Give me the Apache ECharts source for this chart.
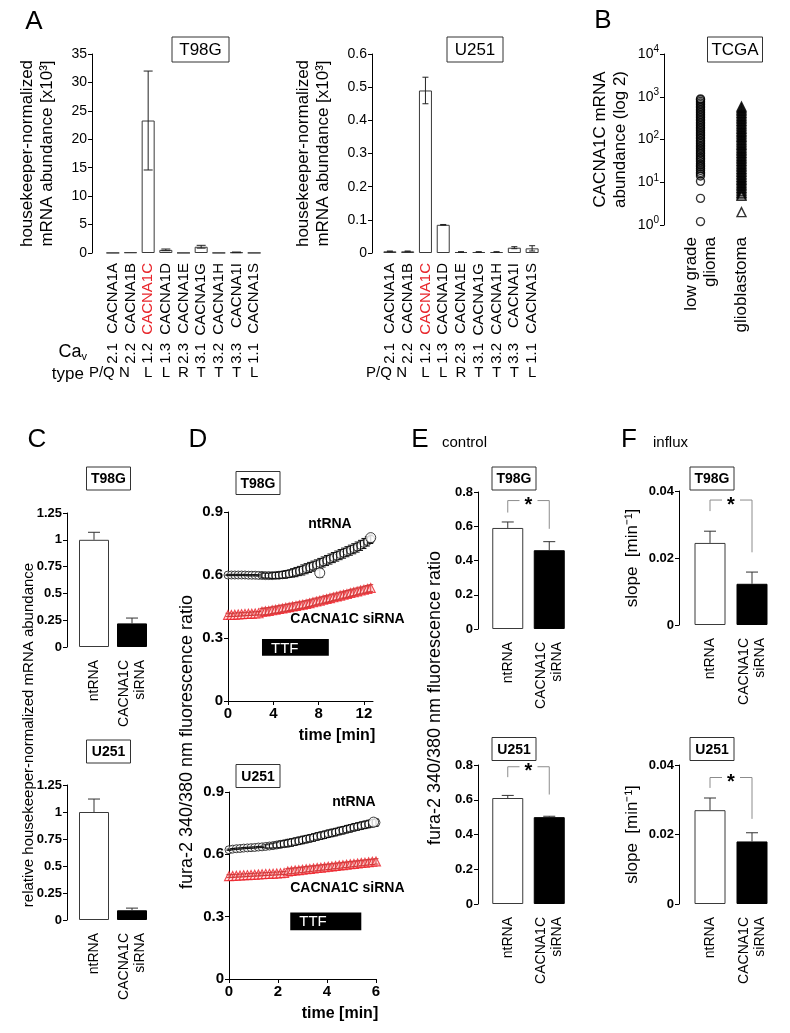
<!DOCTYPE html>
<html>
<head>
<meta charset="utf-8">
<script src="https://cdn.jsdelivr.net/npm/echarts@6/dist/echarts.min.js"></script>
<style>
  html, body { margin: 0; padding: 0; background: #fff; }
  #chart { width: 790px; height: 1033px; }
</style>
</head>
<body>
<div id="chart"></div>
<script>
const FONT = "'Liberation Sans', Arial, Helvetica, sans-serif";

// ---- A: Cav alpha1 mRNA abundance ----
const genes = ['CACNA1A', 'CACNA1B', 'CACNA1C', 'CACNA1D', 'CACNA1E', 'CACNA1G', 'CACNA1H', 'CACNA1I', 'CACNA1S'];
const cavSubtypes = ['2.1', '2.2', '1.2', '1.3', '2.3', '3.1', '3.2', '3.3', '1.1'];
const channelTypes = ['P/Q', 'N', 'L', 'L', 'R', 'T', 'T', 'T', 'L'];
const t98gAbundance = [0.03, 0.12, 23.3, 0.55, 0.03, 1.1, 0.03, 0.12, 0.03];
const t98gAbundanceErr = [0, 0, 8.7, 0.15, 0, 0.25, 0, 0.05, 0];
const u251Abundance = [0.005, 0.005, 0.49, 0.085, 0.003, 0.003, 0.003, 0.016, 0.014];
const u251AbundanceErr = [0.001, 0.001, 0.04, 0.001, 0.001, 0.001, 0.001, 0.003, 0.008];

// ---- B: TCGA ----
const tcgaGroups = ['low grade\nglioma', 'glioblastoma'];
const lowGradeGlioma = [1.2, 4.2, 10.5, 14, 15.5, 17, 19, 21, 23, 25, 27, 30, 33, 36, 39, 43, 47, 51, 56, 61,
  67, 73, 80, 87, 95, 104, 113, 124, 135, 148, 161, 176, 192, 210, 229, 250, 273, 298, 325, 355,
  388, 423, 462, 504, 550, 600, 655, 715, 780, 850, 890];
const glioblastoma = [2.0, 4.8, 5.2, 5.7, 6.2, 6.8, 7.4, 8.1, 8.8, 9.6, 10.5, 11.4, 12.4, 13.5, 14.7, 16, 17.5,
  19, 20.7, 22.6, 24.6, 26.8, 29.2, 31.8, 34.7, 37.8, 41.2, 44.9, 49, 53.4, 58.2, 63.4, 69, 75.3, 82, 89.4,
  97.5, 106, 116, 126, 138, 150, 163, 178, 194, 212, 231, 251, 274, 299, 326, 355, 387, 420, 460, 500, 545, 590];

// ---- C: knockdown ----
const knockdownGroups = ['ntRNA', 'CACNA1C\nsiRNA'];
const t98gKnockdown = [1.0, 0.22];
const t98gKnockdownErr = [0.07, 0.05];
const u251Knockdown = [1.0, 0.09];
const u251KnockdownErr = [0.12, 0.02];

// ---- D: fura-2 traces ----
const timeT98G = [0, 0.3, 0.6, 0.9, 1.2, 1.5, 1.8, 2.1, 2.4, 2.7, 3.0, 3.3, 3.6, 3.9, 4.2, 4.5, 4.8, 5.1, 5.4, 5.7,
  6.0, 6.3, 6.6, 6.9, 7.2, 7.5, 7.8, 8.1, 8.4, 8.7, 9.0, 9.3, 9.6, 9.9, 10.2, 10.5, 10.8, 11.1, 11.4, 11.7, 12.0, 12.3, 12.6];
const ntrnaT98G = [0.600, 0.600, 0.600, 0.600, 0.600, 0.600, 0.599, 0.599, 0.599, 0.598, 0.598, 0.597, 0.597, 0.597,
  0.598, 0.599, 0.601, 0.603, 0.606, 0.610, 0.614, 0.619, 0.624, 0.630, 0.636, 0.642, 0.648, 0.655, 0.662, 0.669,
  0.676, 0.683, 0.690, 0.697, 0.704, 0.711, 0.718, 0.725, 0.733, 0.741, 0.750, 0.760, 0.770];
const ntrnaT98GErr = [0.003, 0.003, 0.003, 0.003, 0.003, 0.003, 0.003, 0.003, 0.003, 0.003, 0.012, 0.012, 0.012, 0.014,
  0.014, 0.016, 0.016, 0.018, 0.018, 0.02, 0.022, 0.022, 0.024, 0.024, 0.024, 0.024, 0.024, 0.024, 0.024, 0.024,
  0.024, 0.024, 0.024, 0.024, 0.024, 0.024, 0.024, 0.024, 0.024, 0.024, 0.024, 0.022, 0.02];
const sirnaT98G = [0.410, 0.410, 0.411, 0.412, 0.413, 0.414, 0.415, 0.416, 0.417, 0.418, 0.425, 0.427, 0.429, 0.432,
  0.435, 0.438, 0.441, 0.444, 0.447, 0.450, 0.453, 0.456, 0.459, 0.462, 0.466, 0.470, 0.474, 0.478, 0.482, 0.486,
  0.490, 0.494, 0.498, 0.502, 0.506, 0.510, 0.514, 0.518, 0.522, 0.526, 0.530, 0.534, 0.538];
const sirnaT98GErr = [0.008, 0.008, 0.008, 0.008, 0.008, 0.008, 0.008, 0.008, 0.008, 0.008, 0.016, 0.016, 0.016, 0.016,
  0.016, 0.016, 0.016, 0.016, 0.016, 0.016, 0.016, 0.016, 0.016, 0.016, 0.016, 0.016, 0.016, 0.016, 0.016, 0.016,
  0.016, 0.016, 0.016, 0.016, 0.016, 0.016, 0.016, 0.016, 0.016, 0.016, 0.016, 0.016, 0.016];
const meanMarksT98G = [[8.1, 0.61], [12.6, 0.778]];
const meanMarksT98GErr = [0.02, 0];
const ttfWindowT98G = [3.0, 8.9];

const timeU251 = [0, 0.15, 0.3, 0.45, 0.6, 0.75, 0.9, 1.05, 1.2, 1.35, 1.5, 1.65, 1.8, 1.95, 2.1, 2.25, 2.4, 2.55,
  2.7, 2.85, 3.0, 3.15, 3.3, 3.45, 3.6, 3.75, 3.9, 4.05, 4.2, 4.35, 4.5, 4.65, 4.8, 4.95, 5.1, 5.25, 5.4, 5.55, 5.7, 5.85, 6.0];
const ntrnaU251 = [0.622, 0.625, 0.627, 0.628, 0.630, 0.631, 0.632, 0.633, 0.635, 0.636, 0.638, 0.640, 0.642, 0.645,
  0.648, 0.651, 0.654, 0.657, 0.661, 0.665, 0.669, 0.673, 0.677, 0.681, 0.686, 0.690, 0.694, 0.699, 0.703, 0.707,
  0.712, 0.716, 0.721, 0.725, 0.730, 0.734, 0.738, 0.742, 0.746, 0.750, 0.753];
const ntrnaU251Err = [0.003, 0.003, 0.003, 0.003, 0.003, 0.003, 0.003, 0.003, 0.003, 0.003, 0.008, 0.01, 0.012, 0.014,
  0.016, 0.016, 0.018, 0.018, 0.018, 0.018, 0.018, 0.018, 0.018, 0.018, 0.018, 0.018, 0.018, 0.018, 0.018, 0.018,
  0.018, 0.018, 0.018, 0.018, 0.018, 0.018, 0.018, 0.018, 0.018, 0.018, 0.018];
const sirnaU251 = [0.495, 0.496, 0.497, 0.498, 0.499, 0.500, 0.501, 0.502, 0.503, 0.504, 0.505, 0.506, 0.507, 0.508,
  0.509, 0.510, 0.518, 0.520, 0.522, 0.524, 0.526, 0.528, 0.530, 0.532, 0.534, 0.536, 0.538, 0.540, 0.542, 0.544,
  0.546, 0.548, 0.550, 0.552, 0.554, 0.556, 0.558, 0.560, 0.562, 0.564, 0.566];
const sirnaU251Err = [0.007, 0.007, 0.007, 0.007, 0.007, 0.007, 0.007, 0.007, 0.007, 0.007, 0.007, 0.007, 0.007, 0.007,
  0.007, 0.007, 0.013, 0.013, 0.013, 0.013, 0.013, 0.013, 0.013, 0.013, 0.013, 0.013, 0.013, 0.013, 0.013, 0.013,
  0.013, 0.013, 0.013, 0.013, 0.013, 0.013, 0.013, 0.013, 0.013, 0.013, 0.013];
const meanMarksU251 = [[5.9, 0.755]];
const meanMarksU251Err = [0];
const ttfWindowU251 = [2.5, 5.4];

// ---- E: basal ratio ----
const ratioT98G = [0.59, 0.46];
const ratioT98GErr = [0.035, 0.05];
const ratioU251 = [0.61, 0.50];
const ratioU251Err = [0.015, 0.005];
// ---- F: influx slope ----
const slopeT98G = [0.0245, 0.0123];
const slopeT98GErr = [0.0035, 0.0035];
const slopeU251 = [0.027, 0.018];
const slopeU251Err = [0.0035, 0.0025];
// significance brackets: [bracket level, left leg end, right leg end]
const sigRatioT98G = [0.75, 0.68, 0.585];
const sigRatioU251 = [0.79, 0.73, 0.63];
const sigSlopeT98G = [0.0373, 0.034, 0.0217];
const sigSlopeU251 = [0.0364, 0.0334, 0.0245];

// ---------------------------------------------------------------
const grids = [], xAxes = [], yAxes = [], series = [];
function addGrid(g) { grids.push(Object.assign({ containLabel: false }, g)); return grids.length - 1; }
function addX(a) { xAxes.push(a); return xAxes.length - 1; }
function addY(a) { yAxes.push(a); return yAxes.length - 1; }

function valueY(gridIndex, min, max, interval, offset, fontSize, name, weight) {
  const a = {
    type: 'value', gridIndex, min, max, interval, offset,
    axisLine: { show: true, lineStyle: { color: '#000', width: 1 } },
    axisTick: { show: true, length: 4, lineStyle: { color: '#000' } },
    axisLabel: { fontSize, color: '#000', fontFamily: FONT, fontWeight: weight || 'normal', margin: 5 },
    splitLine: { show: false }
  };
  if (name) Object.assign(a, name);
  return addY(a);
}
function catX(gridIndex, data, fontSize, margin, extra) {
  return addX(Object.assign({
    type: 'category', gridIndex, data,
    axisLine: { show: false }, axisTick: { show: false },
    axisLabel: { rotate: 90, fontSize, color: '#000', fontFamily: FONT, margin, lineHeight: fontSize + 2, interval: 0 }
  }, extra || {}));
}
function bars(xi, yi, values, fills, width) {
  return {
    type: 'bar', xAxisIndex: xi, yAxisIndex: yi, barWidth: width, silent: true, z: 2,
    data: values.map((v, i) => ({
      value: v,
      itemStyle: { color: fills[i], borderColor: fills[i] === '#000' ? '#000' : '#3a3a3a', borderWidth: 1 }
    }))
  };
}
// vertical error bars: data rows [x, value, err]
function errorBars(xi, yi, rows, oneSided, capWidth, color, z) {
  return {
    type: 'custom', xAxisIndex: xi, yAxisIndex: yi, silent: true, z: z || 5,
    encode: { x: 0, y: 1 },
    data: rows,
    renderItem: (params, api) => {
      const x = api.value(0), v = api.value(1), e = api.value(2);
      if (!e) return null;
      const top = api.coord([x, v + e]);
      const bot = api.coord([x, oneSided ? v : v - e]);
      const h = capWidth / 2;
      const st = { stroke: color, lineWidth: 1 };
      const kids = [
        { type: 'line', shape: { x1: top[0], y1: top[1], x2: bot[0], y2: bot[1] }, style: st },
        { type: 'line', shape: { x1: top[0] - h, y1: top[1], x2: top[0] + h, y2: top[1] }, style: st }
      ];
      if (!oneSided) kids.push({ type: 'line', shape: { x1: bot[0] - h, y1: bot[1], x2: bot[0] + h, y2: bot[1] }, style: st });
      return { type: 'group', children: kids };
    }
  };
}
function withIndex(values, errs) { return values.map((v, i) => [i, v, errs[i]]); }
function bracket(xi, yi, sig) {
  return {
    type: 'custom', xAxisIndex: xi, yAxisIndex: yi, silent: true, z: 6,
    encode: { x: 0, y: 1 },
    data: [[0, sig[0], sig[1], sig[2]]],
    renderItem: (params, api) => {
      const lvl = api.value(1);
      const l0 = api.coord([0, api.value(2)]), l1 = api.coord([0, lvl]);
      const r0 = api.coord([1, api.value(3)]), r1 = api.coord([1, lvl]);
      const mid = (l1[0] + r1[0]) / 2, gap = 9;
      const st = { stroke: '#8c8c8c', lineWidth: 1, fill: null };
      return { type: 'group', children: [
        { type: 'polyline', shape: { points: [l0, l1, [mid - gap, l1[1]]] }, style: st },
        { type: 'polyline', shape: { points: [[mid + gap, r1[1]], r1, r0] }, style: st },
        { type: 'text', x: mid, y: l1[1] + 5, style: { text: '*', fontSize: 20, fontWeight: 'bold', fontFamily: FONT, fill: '#000', align: 'center', verticalAlign: 'middle' } }
      ] };
    }
  };
}
function ttfBar(xi, yi, win, yTop, yBot) {
  return {
    type: 'custom', xAxisIndex: xi, yAxisIndex: yi, silent: true, z: 4,
    encode: { x: 0, y: 2 },
    data: [[win[0], win[1], yTop, yBot]],
    renderItem: (params, api) => {
      const p0 = api.coord([api.value(0), api.value(2)]);
      const p1 = api.coord([api.value(1), api.value(3)]);
      return { type: 'group', children: [
        { type: 'rect', shape: { x: p0[0], y: p0[1], width: p1[0] - p0[0], height: p1[1] - p0[1] }, style: { fill: '#000' } },
        { type: 'text', x: p0[0] + 9, y: (p0[1] + p1[1]) / 2 + 1, style: { text: 'TTF', fontSize: 15, fontFamily: FONT, fill: '#fff', verticalAlign: 'middle' } }
      ] };
    }
  };
}

// ---- grids ----
const gA1 = addGrid({ left: 104, top: 54, width: 159, height: 199 });
const gA2 = addGrid({ left: 381, top: 54, width: 160, height: 199 });
const gB = addGrid({ left: 680, top: 54, width: 82, height: 171 });
const gC1 = addGrid({ left: 75, top: 513, width: 76, height: 134 });
const gC2 = addGrid({ left: 75, top: 785, width: 76, height: 135 });
const gD1 = addGrid({ left: 228, top: 512, width: 145, height: 189 });
const gD2 = addGrid({ left: 229, top: 792, width: 147, height: 187 });
const gE1 = addGrid({ left: 487, top: 492, width: 83, height: 137 });
const gE2 = addGrid({ left: 487, top: 765, width: 83, height: 139 });
const gF1 = addGrid({ left: 689, top: 491, width: 84, height: 134 });
const gF2 = addGrid({ left: 689, top: 765, width: 84, height: 139 });

// ---- panel A axes ----
const geneLabels = genes.map(g => g === 'CACNA1C' ? { value: g, textStyle: { color: '#e8262b' } } : g);
const typeLabels = channelTypes.map((t, i) => i === 0 ? { value: t, textStyle: { padding: [0, 22, 0, 0] } }
  : i === 1 ? { value: t, textStyle: { padding: [0, 12, 0, 0] } } : t);
const aName = (gap) => ({
  name: 'housekeeper-normalized\nmRNA abundance [x10³]', nameLocation: 'middle', nameRotate: 90, nameGap: gap,
  nameTextStyle: { fontSize: 17, lineHeight: 20, color: '#000', fontFamily: FONT }
});
function geneAxes(grid) {
  const xi = catX(grid, geneLabels, 15, 10);
  catX(grid, cavSubtypes, 15, 10, { position: 'bottom', offset: 80 });
  addX({ type: 'category', gridIndex: grid, data: typeLabels, position: 'bottom', offset: 106,
    axisLine: { show: false }, axisTick: { show: false },
    axisLabel: { fontSize: 15, color: '#000', fontFamily: FONT, margin: 6, interval: 0 } });
  return xi;
}
const xA1 = geneAxes(gA1);
const yA1 = valueY(gA1, 0, 35, 5, 12, 14, aName(35));
const xA2 = geneAxes(gA2);
const yA2 = valueY(gA2, 0, 0.6, 0.1, 9, 14, aName(39));

series.push(bars(xA1, yA1, t98gAbundance, genes.map(() => '#fff'), 13));
series.push(errorBars(xA1, yA1, withIndex(t98gAbundance, t98gAbundanceErr), false, 9, '#222'));
series.push(bars(xA2, yA2, u251Abundance, genes.map(() => '#fff'), 13));
series.push(errorBars(xA2, yA2, withIndex(u251Abundance, u251AbundanceErr), false, 6, '#222'));

// ---- panel B ----
const xB = catX(gB, tcgaGroups, 17, 12);
const yB = addY({
  type: 'log', logBase: 10, gridIndex: gB, min: 1, max: 10000, offset: 16,
  axisLine: { show: true, lineStyle: { color: '#000' } },
  axisTick: { show: true, length: 4, lineStyle: { color: '#000' } },
  minorTick: { show: false }, splitLine: { show: false },
  axisLabel: {
    fontSize: 14, color: '#000', fontFamily: FONT, margin: 5,
    formatter: v => '10{s|' + Math.round(Math.log10(v)) + '}',
    rich: { s: { fontSize: 10, fontFamily: FONT, color: '#000', padding: [0, 0, 9, 0] } }
  },
  name: 'CACNA1C mRNA\nabundance (log 2)', nameLocation: 'middle', nameRotate: 90, nameGap: 34,
  nameTextStyle: { fontSize: 17, lineHeight: 20, color: '#000', fontFamily: FONT }
});
series.push({
  type: 'scatter', xAxisIndex: xB, yAxisIndex: yB, symbol: 'circle', symbolSize: 8, silent: true,
  data: lowGradeGlioma.map(v => [0, v]),
  itemStyle: { color: 'rgba(255,255,255,0)', borderColor: '#000', borderWidth: 1.4 }
});
series.push({
  type: 'scatter', xAxisIndex: xB, yAxisIndex: yB, symbol: 'triangle', symbolSize: 9, silent: true,
  data: glioblastoma.map(v => [1, v]),
  itemStyle: { color: 'rgba(255,255,255,0)', borderColor: '#000', borderWidth: 1.4 }
});

// ---- panel C ----
const xC1 = catX(gC1, knockdownGroups, 14, 13);
const yC1 = valueY(gC1, 0, 1.25, 0.25, 8, 13, null, 'bold');
const xC2 = catX(gC2, knockdownGroups, 14, 13);
const yC2 = valueY(gC2, 0, 1.25, 0.25, 8, 13, null, 'bold');
series.push(bars(xC1, yC1, t98gKnockdown, ['#fff', '#000'], 30));
series.push(errorBars(xC1, yC1, withIndex(t98gKnockdown, t98gKnockdownErr), true, 12, '#333'));
series.push(bars(xC2, yC2, u251Knockdown, ['#fff', '#000'], 30));
series.push(errorBars(xC2, yC2, withIndex(u251Knockdown, u251KnockdownErr), true, 12, '#333'));

// ---- panel D ----
function timeAxis(grid, max, interval, ticks) {
  return addX({
    type: 'value', gridIndex: grid, min: 0, max, interval,
    axisLine: { show: true, lineStyle: { color: '#000' } },
    axisTick: { show: true, length: 4, lineStyle: { color: '#000' }, customValues: ticks },
    axisLabel: { fontSize: 15, fontWeight: 'bold', color: '#000', fontFamily: FONT, margin: 5, customValues: ticks },
    splitLine: { show: false }
  });
}
const xD1 = timeAxis(gD1, 12.8, 4, [0, 4, 8, 12]);
const yD1 = valueY(gD1, 0, 0.9, 0.3, 0, 15, null, 'bold');
const xD2 = timeAxis(gD2, 6, 2, [0, 2, 4, 6]);
const yD2 = valueY(gD2, 0, 0.9, 0.3, 0, 15, null, 'bold');

function traces(xi, yi, time, nt, ntErr, si, siErr, marks, marksErr, ttf, ttfTop, ttfBot) {
  series.push(ttfBar(xi, yi, ttf, ttfTop, ttfBot));
  series.push({
    type: 'scatter', xAxisIndex: xi, yAxisIndex: yi, symbol: 'triangle', symbolSize: 9, silent: true, z: 2,
    data: time.map((t, i) => [t, si[i]]),
    itemStyle: { color: 'rgba(255,225,225,0.9)', borderColor: '#ec1c24', borderWidth: 1.1 }
  });
  series.push(errorBars(xi, yi, time.map((t, i) => [t, si[i], siErr[i]]), false, 5, '#d23a3a', 3));
  series.push({
    type: 'scatter', xAxisIndex: xi, yAxisIndex: yi, symbol: 'circle', symbolSize: 8, silent: true, z: 2,
    data: time.map((t, i) => [t, nt[i]]),
    itemStyle: { color: '#fff', borderColor: '#111', borderWidth: 1 }
  });
  series.push(errorBars(xi, yi, time.map((t, i) => [t, nt[i], ntErr[i]]), false, 5, '#111', 3));
  series.push(errorBars(xi, yi, marks.map((m, i) => [m[0], m[1], marksErr[i]]), false, 7, '#111', 6));
  series.push({
    type: 'scatter', xAxisIndex: xi, yAxisIndex: yi, symbol: 'circle', symbolSize: 10, silent: true, z: 7,
    data: marks,
    itemStyle: { color: '#fff', borderColor: '#111', borderWidth: 1 }
  });
}
traces(xD1, yD1, timeT98G, ntrnaT98G, ntrnaT98GErr, sirnaT98G, sirnaT98GErr, meanMarksT98G, meanMarksT98GErr, ttfWindowT98G, 0.295, 0.215);
traces(xD2, yD2, timeU251, ntrnaU251, ntrnaU251Err, sirnaU251, sirnaU251Err, meanMarksU251, meanMarksU251Err, ttfWindowU251, 0.32, 0.235);

// ---- panel E ----
const xE1 = catX(gE1, knockdownGroups, 14, 13);
const yE1 = valueY(gE1, 0, 0.8, 0.2, 9, 13, null, 'bold');
const xE2 = catX(gE2, knockdownGroups, 14, 13);
const yE2 = valueY(gE2, 0, 0.8, 0.2, 9, 13, null, 'bold');
series.push(bars(xE1, yE1, ratioT98G, ['#fff', '#000'], 31));
series.push(errorBars(xE1, yE1, withIndex(ratioT98G, ratioT98GErr), true, 12, '#333'));
series.push(bracket(xE1, yE1, sigRatioT98G));
series.push(bars(xE2, yE2, ratioU251, ['#fff', '#000'], 31));
series.push(errorBars(xE2, yE2, withIndex(ratioU251, ratioU251Err), true, 12, '#333'));
series.push(bracket(xE2, yE2, sigRatioU251));

// ---- panel F ----
const fName = {
  name: 'slope  [min⁻¹]', nameLocation: 'middle', nameRotate: 90, nameGap: 38,
  nameTextStyle: { fontSize: 17, color: '#000', fontFamily: FONT }
};
const xF1 = catX(gF1, knockdownGroups, 14, 13);
const yF1 = valueY(gF1, 0, 0.04, 0.02, 10, 13, fName, 'bold');
const xF2 = catX(gF2, knockdownGroups, 14, 13);
const yF2 = valueY(gF2, 0, 0.04, 0.02, 10, 13, fName, 'bold');
series.push(bars(xF1, yF1, slopeT98G, ['#fff', '#000'], 31));
series.push(errorBars(xF1, yF1, withIndex(slopeT98G, slopeT98GErr), true, 12, '#333'));
series.push(bracket(xF1, yF1, sigSlopeT98G));
series.push(bars(xF2, yF2, slopeU251, ['#fff', '#000'], 31));
series.push(errorBars(xF2, yF2, withIndex(slopeU251, slopeU251Err), true, 12, '#333'));
series.push(bracket(xF2, yF2, sigSlopeU251));

const chart = echarts.init(document.getElementById('chart'), null, { renderer: 'canvas' });
chart.setOption({
  animation: false,
  backgroundColor: '#fff',
  textStyle: { fontFamily: FONT },
  grid: grids, xAxis: xAxes, yAxis: yAxes, series
});

// ---- annotations ----
function text(str, x, y, size, align, weight, extra) {
  return Object.assign({
    type: 'text', x, y, silent: true,
    style: { text: str, fontSize: size, fontWeight: weight || 'normal', fontFamily: FONT, fill: '#000', align: align || 'left', verticalAlign: 'middle' }
  }, extra || {});
}
function vText(str, x, y, size) {
  return text(str, x, y, size, 'center', 'normal', { rotation: Math.PI / 2 });
}
function box(str, cx, cy, w, h, size, weight) {
  return { type: 'group', silent: true, children: [
    { type: 'rect', shape: { x: cx - w / 2, y: cy - h / 2, width: w, height: h }, style: { fill: '#fff', stroke: '#333', lineWidth: 1 } },
    text(str, cx, cy + 1, size, 'center', weight)
  ] };
}
const px = (xi, yi, pt) => chart.convertToPixel({ xAxisIndex: xi, yAxisIndex: yi }, pt);

const graphics = [
  text('A', 34, 22, 26, 'center'), text('B', 603, 21, 26, 'center'),
  text('C', 37, 440, 26, 'center'), text('D', 198, 440, 26, 'center'),
  text('E', 420, 440, 26, 'center'), text('F', 629, 440, 26, 'center'),
  text('control', 442, 443, 15), text('influx', 653, 443, 15),
  box('T98G', 200.5, 49.5, 57, 25, 17), box('U251', 475, 49.5, 56, 25, 17), box('TCGA', 735, 49.5, 55, 25, 17),
  box('T98G', 108.5, 478.5, 44, 23, 14, 'bold'), box('U251', 108.5, 751.5, 44, 23, 14, 'bold'),
  box('T98G', 258, 483, 44, 23, 14, 'bold'), box('U251', 258, 776, 44, 23, 14, 'bold'),
  box('T98G', 514, 478.5, 44, 23, 14, 'bold'), box('U251', 514, 749, 44, 23, 14, 'bold'),
  box('T98G', 712, 478.5, 44, 23, 14, 'bold'), box('U251', 712, 749, 44, 23, 14, 'bold'),
  {
    type: 'text', x: 87, y: 352, silent: true,
    style: { text: 'Ca{v|v}', fontSize: 18, fontFamily: FONT, fill: '#000', align: 'right', verticalAlign: 'middle',
      rich: { v: { fontSize: 11, fontFamily: FONT, padding: [9, 0, 0, 0] } } }
  },
  text('type', 84, 374, 17, 'right'),
  vText('relative housekeeper-normalized mRNA abundance', 29, 735, 15),
  vText('fura-2 340/380 nm fluorescence ratio', 187, 742, 18),
  vText('fura-2 340/380 nm fluorescence ratio', 435, 698, 18)
];

function traceLabels(xi, yi, ntPos, siPos, tMax) {
  const a = px(xi, yi, ntPos), b = px(xi, yi, siPos), end = px(xi, yi, [tMax, 0]);
  graphics.push(text('ntRNA', a[0], a[1], 14, 'center', 'bold'));
  graphics.push(text('CACNA1C siRNA', b[0], b[1], 14, 'left', 'bold'));
  graphics.push(text('time [min]', end[0] - 36, end[1] + 35, 16, 'center', 'bold'));
}
traceLabels(xD1, yD1, [9.0, 0.84], [5.5, 0.39], 12.8);
traceLabels(xD2, yD2, [5.1, 0.85], [2.5, 0.435], 6);

chart.setOption({ graphic: graphics });
</script>
</body>
</html>
